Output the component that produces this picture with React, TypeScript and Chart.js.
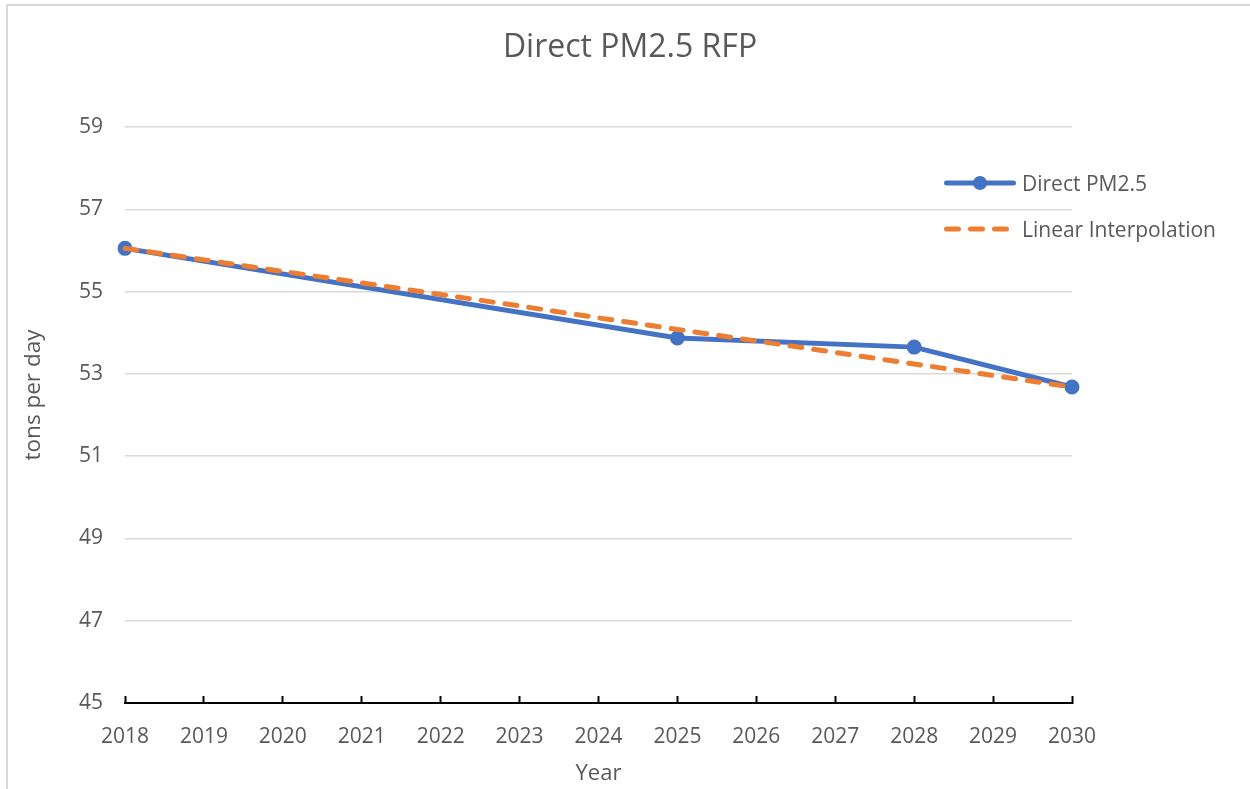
import React, { useEffect, useRef } from "react";
import { Chart, registerables } from "chart.js";

Chart.register(...registerables);

const years: string[] = ["2018", "2019", "2020", "2021", "2022", "2023", "2024", "2025", "2026", "2027", "2028", "2029", "2030"];
const directPM25: (number | null)[] = [56.05, null, null, null, null, null, null, 53.87, null, null, 53.65, null, 52.68];
const linearInterpolation: number[] = [56.05, 55.77, 55.49, 55.21, 54.93, 54.65, 54.36, 54.08, 53.8, 53.52, 53.24, 52.96, 52.68];
const yTicks = { min: 45, max: 59, step: 2 };

const TITLE = "Direct PM2.5 RFP";
const X_TITLE = "Year";
const Y_TITLE = "tons per day";
const SERIES_NAMES = ["Direct PM2.5", "Linear Interpolation"];

const BLUE = "#4472C4";
const ORANGE = "#ED7D31";
const TEXT = "#595959";
const GRID = "#d9d9d9";
const FONT = "'Open Sans', 'DejaVu Sans', sans-serif";

const customDraw = {
  id: "customDraw",
  afterDraw(chart: any) {
    const { ctx, chartArea, width } = chart;
    ctx.save();
    // chart title (centered over the whole chart)
    ctx.fillStyle = TEXT;
    ctx.font = `32px ${FONT}`;
    ctx.textAlign = "center";
    ctx.textBaseline = "middle";
    ctx.fillText(TITLE, width / 2 + 5, 48);

    // y axis title
    ctx.font = `22.5px ${FONT}`;
    ctx.translate(34, chartArea.top + (chartArea.bottom - chartArea.top) / 2 - 20);
    ctx.rotate(-Math.PI / 2);
    ctx.fillText(Y_TITLE, 0, 0);
    ctx.restore();

    // legend
    ctx.save();
    const lx = chartArea.right - 128;
    const y1 = 183;
    const y2 = 229;
    ctx.lineCap = "round";
    ctx.lineWidth = 5;
    ctx.strokeStyle = BLUE;
    ctx.beginPath();
    ctx.moveTo(lx + 2.5, y1);
    ctx.lineTo(lx + 69.5, y1);
    ctx.stroke();
    ctx.fillStyle = BLUE;
    ctx.beginPath();
    ctx.arc(lx + 36, y1, 7, 0, Math.PI * 2);
    ctx.fill();

    ctx.strokeStyle = ORANGE;
    ctx.setLineDash([12, 12]);
    ctx.beginPath();
    ctx.moveTo(lx + 2.5, y2);
    ctx.lineTo(lx + 67, y2);
    ctx.stroke();
    ctx.setLineDash([]);

    ctx.fillStyle = TEXT;
    ctx.font = `21px ${FONT}`;
    ctx.textAlign = "left";
    ctx.textBaseline = "middle";
    ctx.fillText(SERIES_NAMES[0], lx + 78, y1 + 2);
    ctx.fillText(SERIES_NAMES[1], lx + 78, y2 + 2);
    ctx.restore();
  },
};

export default function App() {
  const canvasRef = useRef<HTMLCanvasElement | null>(null);

  useEffect(() => {
    const canvas = canvasRef.current;
    if (!canvas) return;
    Chart.defaults.font.family = FONT;
    Chart.defaults.color = TEXT;
    const chart = new Chart(canvas, {
      type: "line",
      data: {
        labels: years,
        datasets: [
          {
            label: SERIES_NAMES[1],
            data: linearInterpolation,
            borderColor: ORANGE,
            backgroundColor: ORANGE,
            borderWidth: 5,
            borderDash: [12, 12],
            borderCapStyle: "round",
            pointRadius: 0,
            pointHoverRadius: 0,
            tension: 0,
            fill: false,
            order: 0,
          },
          {
            label: SERIES_NAMES[0],
            data: directPM25,
            borderColor: BLUE,
            backgroundColor: BLUE,
            borderWidth: 5,
            pointRadius: 6.5,
            pointBorderWidth: 2,
            pointBorderColor: BLUE,
            pointBackgroundColor: BLUE,
            spanGaps: true,
            tension: 0,
            fill: false,
            order: 1,
          },
        ],
      },
      options: {
        responsive: false,
        animation: false,
        devicePixelRatio: 1,
        layout: { padding: { left: 0, right: 178, top: 127, bottom: 0 } },
        plugins: {
          legend: { display: false },
          tooltip: { enabled: false },
          title: { display: false },
        },
        scales: {
          x: {
            type: "category",
            offset: false,
            afterFit: (scale: any) => {
              scale.height = 86;
            },
            grid: {
              display: true,
              drawOnChartArea: false,
              drawTicks: true,
              tickLength: -7,
              tickColor: "#000",
              tickWidth: 2,
            },
            border: { display: true, color: "#000", width: 2 },
            ticks: {
              color: TEXT,
              font: { size: 21 },
              padding: 28,
              maxRotation: 0,
              autoSkip: false,
            },
            title: {
              display: true,
              text: X_TITLE,
              color: TEXT,
              font: { size: 22 },
              padding: { top: 0, bottom: 2 },
            },
          },
          y: {
            min: yTicks.min,
            max: yTicks.max,
            afterFit: (scale: any) => {
              scale.width = 125;
            },
            grid: {
              color: GRID,
              lineWidth: 1.5,
              drawTicks: false,
            },
            border: { display: false },
            ticks: {
              stepSize: yTicks.step,
              color: TEXT,
              font: { size: 21 },
              padding: 22,
            },
          },
        },
      },
      plugins: [customDraw],
    } as any);
    return () => chart.destroy();
  }, []);

  return (
    <div style={{ position: "absolute", left: 0, top: 0, width: 1250, height: 789, overflow: "hidden", background: "#fff" }}>
      <canvas ref={canvasRef} width={1250} height={789} style={{ position: "absolute", left: 0, top: 0, width: 1250, height: 789 }} />
      <div style={{ position: "absolute", left: 6, top: 4, width: 1300, height: 900, border: "2px solid #d9d9d9", boxSizing: "border-box", pointerEvents: "none" }} />
    </div>
  );
}
